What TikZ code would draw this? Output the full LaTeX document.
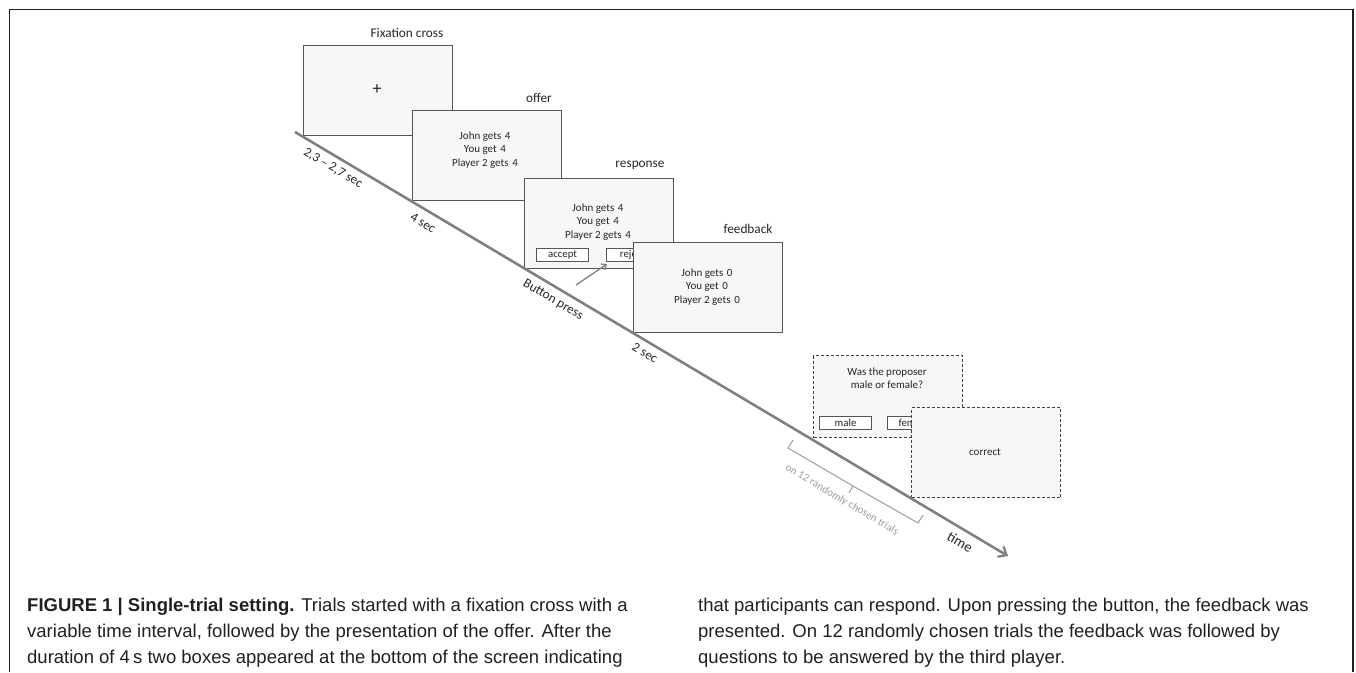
\documentclass[tikz,border=0pt]{standalone}
\usepackage{fontspec}
\setmainfont{Carlito}
\newfontfamily\capfont{Liberation Sans}
\usetikzlibrary{arrows.meta}
\definecolor{scrfill}{HTML}{F7F7F7}
\definecolor{scrline}{HTML}{555555}
\definecolor{tline}{HTML}{808080}
\definecolor{lgray}{HTML}{9C9C9C}
\definecolor{txt}{HTML}{262626}
\definecolor{frame}{HTML}{231F20}
\tikzset{
 screen/.style={draw=scrline, fill=scrfill, line width=1.3pt, minimum width=149pt, minimum height=90pt, inner sep=0pt, anchor=north west},
 qscreen/.style={screen, draw=black!75, dash pattern=on 3pt off 2pt},
 btn/.style={draw=scrline, fill=white, line width=1.1pt, minimum width=52pt, minimum height=13pt, inner sep=0pt, font=\fontsize{10.8}{12}\selectfont, text=txt, anchor=north west},
 stext/.style={font=\fontsize{11}{13.5}\selectfont, text=txt, align=center, inner sep=0pt},
 ttl/.style={font=\fontsize{13.3}{15}\selectfont, text=txt, inner sep=0pt},
 tlabel/.style={font=\fontsize{13.2}{15}\selectfont, text=txt, rotate=-30.7, inner sep=0pt},
 capline/.style={anchor=base west, inner sep=0pt, font=\capfont\fontsize{18.5}{22}\selectfont, text=frame},
}
\begin{document}
\begin{tikzpicture}[x=1pt,y=-1pt]
\useasboundingbox (0,0) rectangle (1356,672);
% frame
\coordinate (fbl) at (9.5,672);
\coordinate (ftl) at (9.5,9.5);
\coordinate (ftr) at (1353,9.5);
\coordinate (fbr) at (1353,672);
\draw[frame, line width=1.5pt] (fbl) -- (ftl) -- (ftr) -- (fbr);

% screens
\node[screen] (fix) at (303,45) {};
\node[ttl] (fixt) at (407,33) {Fixation cross};
\node[font=\fontsize{18}{18}\selectfont, text=txt, inner sep=0pt] (plus) at (377,90) {+};

\node[screen] (off) at (412,110) {};
\node[ttl] (offt) at (539,98) {offer};
\node[stext] (offx) at (485,150) {John gets\,\,4\\You get\,\,4\\Player 2 gets\,\,4};

\node[screen] (resp) at (524,178) {};
\node[ttl] (respt) at (640,165) {response};
\node[stext] (respx) at (598,222) {John gets\,\,4\\You get\,\,4\\Player 2 gets\,\,4};
\node[btn] (acc) at (536,248) {accept};
\node[btn] (rej) at (606,248) {reject};

\node[screen] (fb) at (633,242) {};
\node[ttl] (fbt) at (748,229) {feedback};
\node[stext] (fbx) at (707,287) {John gets\,\,0\\You get\,\,0\\Player 2 gets\,\,0};

\node[qscreen, minimum height=82pt] (q) at (813,355) {};
\node[stext] (qx) at (887,378) {Was the proposer\\male or female?};
\node[btn] (male) at (819,416) {male};
\node[btn] (fem) at (887,416) {female};

\node[qscreen] (corr) at (911,407) {};
\node[stext] (corrx) at (985,452) {correct};

% timeline
\coordinate (t0) at (295,132);
\coordinate (t1) at (1008,556);
\draw[tline, line width=2.6pt, -{Straight Barb[length=7pt,width=12pt,line width=2.2pt]}] (t0) -- (t1);

\node[tlabel] (l1) at (333,168) {2,3 -- 2,7 sec};
\node[tlabel] (l2) at (423,223) {4 sec};
\node[tlabel] (l3) at (553,300) {Button press};
\node[tlabel] (l4) at (645,353) {2 sec};
\node[tlabel, font=\fontsize{14.5}{16}\selectfont] (l5) at (960,542) {time};

% button press arrow
\coordinate (pa) at (576,285);
\draw[tline, line width=1.3pt, -{Straight Barb[length=4pt,width=7pt]}] (pa) -- ([shift={(1,2)}]rej.south west);

% bracket
\coordinate (b1) at (793,440);
\coordinate (b2) at (788,448);
\coordinate (bm) at (853,486);
\coordinate (bt) at (849,493);
\coordinate (b3) at (918,523);
\coordinate (b4) at (923,515);
\draw[lgray, line width=1pt] (b1) -- (b2) -- (bm) -- (b3) -- (b4);
\draw[lgray, line width=1pt] (bm) -- (bt);
\node[font=\fontsize{11}{13}\selectfont, text=lgray, rotate=-30.5, inner sep=0pt] (brt) at (842,500) {on 12 randomly chosen trials};

% caption
\node[capline] (c1) at (27,611) {\textbf{FIGURE 1 | Single-trial setting.} Trials started with a fixation cross with a};
\node[capline] (c2) at (27,637) {variable time interval, followed by the presentation of the offer. After the};
\node[capline] (c3) at (27,663) {duration of 4\,s two boxes appeared at the bottom of the screen indicating};
\node[capline] (c4) at (698,611) {that participants can respond. Upon pressing the button, the feedback was};
\node[capline] (c5) at (698,637) {presented. On 12 randomly chosen trials the feedback was followed by};
\node[capline] (c6) at (698,663) {questions to be answered by the third player.};
\end{tikzpicture}
\end{document}
